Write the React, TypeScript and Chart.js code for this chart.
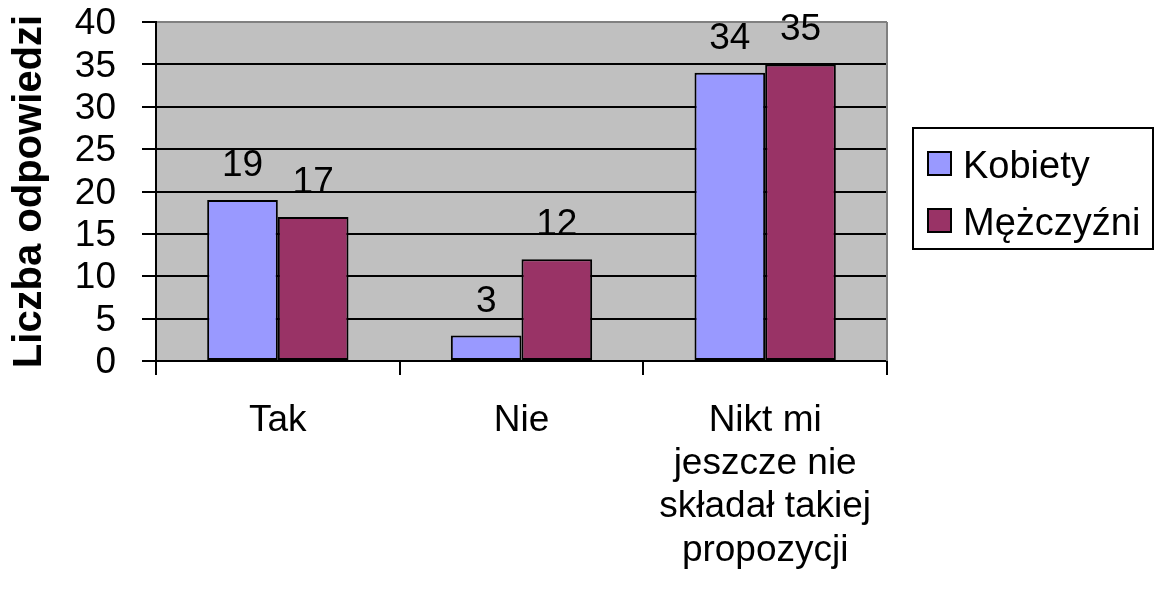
import React, { useEffect, useRef } from 'react';
import { Chart, registerables } from 'chart.js';

Chart.register(...registerables);

const categories: (string | string[])[] = [
  'Tak',
  'Nie',
  ['Nikt mi', 'jeszcze nie', 'składał takiej', 'propozycji'],
];
const seriesNames = ['Kobiety', 'Mężczyźni'];
const kobiety = [19, 3, 34];
const mezczyzni = [17, 12, 35];
const seriesColors = ['#9999FF', '#993366'];
const yMin = 0;
const yMax = 40;
const yStep = 5;
const yTitle = 'Liczba odpowiedzi';

const FONT = '"Liberation Sans", Arial, Helvetica, sans-serif';

const plotBg = {
  id: 'plotBg',
  beforeDraw(chart: any) {
    const { ctx, chartArea: a } = chart;
    ctx.save();
    ctx.fillStyle = '#C0C0C0';
    ctx.fillRect(a.left, a.top, a.right - a.left, a.bottom - a.top);
    ctx.restore();
  },
  beforeDatasetsDraw(chart: any) {
    const { ctx, chartArea: a } = chart;
    ctx.save();
    ctx.strokeStyle = '#808080';
    ctx.lineWidth = 2;
    ctx.beginPath();
    ctx.moveTo(a.right, a.top);
    ctx.lineTo(a.right, a.bottom);
    ctx.stroke();
    ctx.restore();
  },
};

const dataLabels = {
  id: 'dataLabels',
  afterDatasetsDraw(chart: any) {
    const ctx = chart.ctx;
    ctx.save();
    ctx.font = `37px ${FONT}`;
    ctx.fillStyle = '#000';
    ctx.textAlign = 'center';
    ctx.textBaseline = 'alphabetic';
    chart.data.datasets.forEach((ds: any, i: number) => {
      chart.getDatasetMeta(i).data.forEach((bar: any, j: number) => {
        ctx.fillText(String(ds.data[j]), bar.x, bar.y - 24);
      });
    });
    ctx.restore();
  },
};

const boxLegend = {
  id: 'boxLegend',
  afterDraw(chart: any) {
    const ctx = chart.ctx;
    const left = 913;
    const top = 128;
    const w = 240;
    const h = 121;
    ctx.save();
    ctx.fillStyle = '#FFFFFF';
    ctx.fillRect(left, top, w, h);
    ctx.strokeStyle = '#000';
    ctx.lineWidth = 2;
    ctx.strokeRect(left, top, w, h);
    ctx.font = `38px ${FONT}`;
    ctx.textAlign = 'left';
    ctx.textBaseline = 'alphabetic';
    chart.data.datasets.forEach((ds: any, i: number) => {
      const y = top + 24 + i * 57;
      ctx.fillStyle = ds.backgroundColor;
      ctx.fillRect(left + 15, y, 23, 23);
      ctx.lineWidth = 2;
      ctx.strokeStyle = '#000';
      ctx.strokeRect(left + 15, y, 23, 23);
      ctx.fillStyle = '#000';
      ctx.fillText(ds.label, left + 50, y + 26);
    });
    ctx.restore();
  },
};

export default function App() {
  const ref = useRef<HTMLCanvasElement | null>(null);

  useEffect(() => {
    if (!ref.current) return;
    Chart.defaults.font.family = FONT;
    const chart = new Chart(ref.current, {
      type: 'bar',
      data: {
        labels: categories as any,
        datasets: [
          {
            label: seriesNames[0],
            data: kobiety,
            backgroundColor: seriesColors[0],
            borderColor: '#000',
            borderWidth: 2,
            borderSkipped: false,
            categoryPercentage: 0.58,
            barPercentage: 1.0,
          },
          {
            label: seriesNames[1],
            data: mezczyzni,
            backgroundColor: seriesColors[1],
            borderColor: '#000',
            borderWidth: 2,
            borderSkipped: false,
            categoryPercentage: 0.58,
            barPercentage: 1.0,
          },
        ],
      },
      options: {
        animation: false,
        responsive: true,
        maintainAspectRatio: false,
        layout: { padding: { top: 22, right: 269, left: 0, bottom: 0 } },
        plugins: {
          legend: { display: false },
          tooltip: { enabled: false },
        },
        scales: {
          x: {
            offset: true,
            grid: {
              display: true,
              offset: true,
              drawOnChartArea: false,
              drawTicks: true,
              tickLength: 14,
              color: '#000',
              tickColor: '#000',
              lineWidth: 2,
            },
            border: { display: true, color: '#000', width: 2 },
            ticks: {
              color: '#000',
              font: { size: 37, lineHeight: 1.17 },
              padding: 24,
              maxRotation: 0,
              autoSkip: false,
            },
            afterFit: (s: any) => {
              s.height = 234;
              s.paddingLeft = 0;
              s.paddingRight = 0;
            },
          },
          y: {
            min: yMin,
            max: yMax,
            grid: {
              color: (c: any) => (c.tick && c.tick.value === yMax ? '#808080' : '#000'),
              tickColor: '#000',
              lineWidth: 2,
              tickLength: 14,
              drawTicks: true,
            },
            border: { display: true, color: '#000', width: 2 },
            ticks: {
              stepSize: yStep,
              autoSkip: false,
              color: '#000',
              font: { size: 37, lineHeight: 1.0 },
              padding: 26,
              labelOffset: 2,
            },
            title: {
              display: true,
              text: yTitle,
              color: '#000',
              font: { size: 40, weight: 'bold', lineHeight: 1.2 },
              padding: { top: 6, bottom: 0 },
            },
            afterFit: (s: any) => {
              s.width = 156;
              s.paddingTop = 0;
              s.paddingBottom = 0;
            },
          },
        },
      },
      plugins: [plotBg, dataLabels, boxLegend],
    });
    return () => chart.destroy();
  }, []);

  return (
    <div style={{ position: 'absolute', left: 0, top: 0, width: 1156, height: 595, background: '#fff' }}>
      <canvas ref={ref} />
    </div>
  );
}
